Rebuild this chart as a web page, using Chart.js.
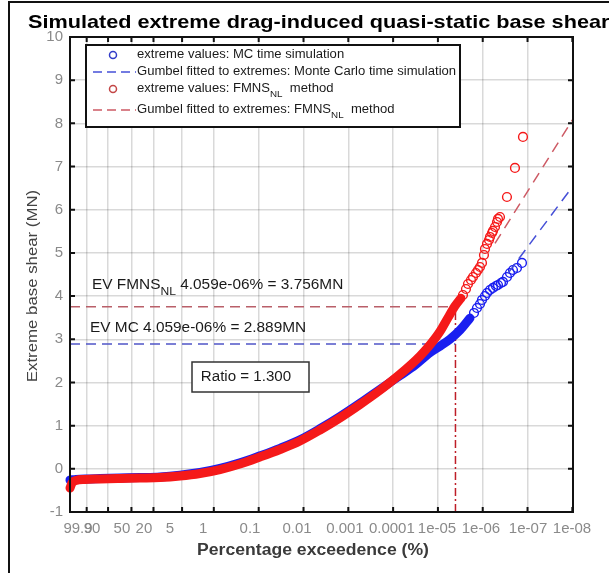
<!DOCTYPE html>
<html>
<head>
<meta charset="utf-8">
<script src="https://cdn.jsdelivr.net/npm/chart.js@4/dist/chart.umd.min.js"></script>
<style>
  html, body { margin: 0; padding: 0; background: #fff; }
  canvas { display: block; }
</style>
</head>
<body>
<canvas id="chart" width="609" height="573"></canvas>
<script>
// ---- exceedance-probability axis (Gumbel reduced variate u = -ln(-ln(1 - P))) ----
const tickPercent = ['99.9', '90', '50', '20', '5', '1', '0.1', '0.01', '0.001', '0.0001', '1e-05', '1e-06', '1e-07', '1e-08'];
// reduced-variate coordinates where each tick label is centred
const labelVariate = [-2.38, -1.66, -0.12, 1.01, 2.35, 4.05, 6.46, 8.88, 11.34, 13.75, 16.07, 18.33, 20.75, 23.01];
const axisVariate = [-2.79, 23.06];

// ---- MC time simulation: sorted extremes (reduced variate, MN) ----
const mcBandU = [-2.790, -2.482, -2.019, -1.248, -0.221, 0.807, 1.835, 2.863, 3.890, 4.918, 5.946, 6.974, 8.002, 9.029, 10.057, 11.085, 12.113, 13.140, 14.168, 14.939, 15.710, 16.224, 16.737, 17.251, 17.765];
const mcBandV = [-0.259, -0.247, -0.236, -0.226, -0.214, -0.203, -0.188, -0.148, -0.085, 0.010, 0.140, 0.302, 0.475, 0.672, 0.928, 1.210, 1.518, 1.840, 2.160, 2.400, 2.690, 2.840, 3.000, 3.210, 3.490];
const mcTailU = [17.971, 18.125, 18.279, 18.382, 18.536, 18.639, 18.793, 18.947, 19.101, 19.204, 19.358, 19.461, 19.666, 19.820, 19.975, 20.180, 20.437];
const mcTailV = [3.609, 3.724, 3.817, 3.910, 4.002, 4.072, 4.141, 4.188, 4.234, 4.257, 4.303, 4.327, 4.442, 4.535, 4.604, 4.651, 4.767];

// ---- FMNS_NL method: sorted extremes (reduced variate, MN) ----
const fmBandU = [-2.790, -2.687, -2.482, -2.019, -1.248, -0.221, 0.807, 1.835, 2.863, 3.890, 4.918, 5.946, 6.974, 8.002, 9.029, 10.057, 11.085, 12.113, 13.140, 14.168, 14.682, 15.196, 15.710, 16.224, 16.635, 16.994, 17.302];
const fmBandV = [-0.444, -0.328, -0.270, -0.247, -0.236, -0.224, -0.213, -0.201, -0.166, -0.108, -0.016, 0.112, 0.274, 0.447, 0.644, 0.899, 1.180, 1.490, 1.820, 2.190, 2.390, 2.610, 2.870, 3.180, 3.500, 3.770, 3.950];
const fmTailU = [17.405, 17.559, 17.662, 17.816, 17.919, 18.073, 18.176, 18.279, 18.382, 18.484, 18.536, 18.639, 18.741, 18.793, 18.896, 18.947, 19.050, 19.153, 19.204, 19.307, 19.666, 20.077, 20.489];
const fmTailV = [4.025, 4.164, 4.280, 4.373, 4.442, 4.535, 4.604, 4.674, 4.767, 4.952, 5.091, 5.207, 5.299, 5.369, 5.461, 5.508, 5.600, 5.716, 5.786, 5.832, 6.295, 6.967, 7.685];

// ---- Gumbel fits to the extremes (end points, MN) ----
const mcFitU = [19.72, 23.06];
const mcFitV = [4.53, 6.55];
const fmFitU = [19.05, 23.06];
const fmFitV = [5.22, 8.10];

// ---- design extreme value ----
const evPercent = 4.059e-06;
const evMC = 2.889;
const evFMNS = 3.756;
const ratioText = 'Ratio = 1.300';

const FONT = '"Liberation Sans", Arial, sans-serif';
const gumbel = p => -Math.log(-Math.log1p(-p / 100));
const evU = gumbel(evPercent);

const pts = (us, vs) => us.map((u, i) => ({ x: u, y: vs[i] }));

const BLUE = 'rgb(25,30,240)';
const RED = 'rgb(245,25,25)';
const BLUE_DASH = 'rgb(70,80,215)';
const RED_DASH = 'rgb(205,90,100)';

const band = (data, color, order) => ({
  data, showLine: true, pointRadius: 0, borderColor: color, borderWidth: 9,
  borderCapStyle: 'round', borderJoinStyle: 'round', cubicInterpolationMode: 'monotone', clip: 6, order
});
const markers = (data, color, order) => ({
  data, showLine: false, pointStyle: 'circle', pointRadius: 4.4, pointBorderWidth: 1.4,
  pointBorderColor: color, pointBackgroundColor: 'rgba(0,0,0,0)', order
});
const dashed = (data, color, dash, order, width = 1.5) => ({
  data, showLine: true, pointRadius: 0, borderColor: color, borderWidth: width,
  borderDash: dash, order
});

const datasets = [
  dashed([{ x: axisVariate[0], y: evFMNS }, { x: evU, y: evFMNS }], 'rgb(185,95,105)', [10, 6], 9),
  dashed([{ x: axisVariate[0], y: evMC }, { x: evU, y: evMC }], 'rgb(80,85,200)', [10, 6], 9),
  dashed([{ x: evU, y: -1 }, { x: evU, y: evFMNS }], 'rgb(190,30,40)', [8, 3, 2, 3], 9),
  band(pts(mcBandU, mcBandV), BLUE, 8),
  markers(pts(mcTailU, mcTailV), BLUE, 7),
  dashed(pts(mcFitU, mcFitV), BLUE_DASH, [11, 7], 6),
  band(pts(fmBandU, fmBandV), RED, 5),
  markers(pts(fmTailU, fmTailV), RED, 4),
  dashed(pts(fmFitU, fmFitV), RED_DASH, [11, 7], 3)
];

// horizontally stretched text, optionally with subscript parts
function drawText(ctx, x, y, parts, size, opts = {}) {
  const { sx = 1.1, align = 'left', weight = '' } = opts;
  const fontOf = sub => (weight ? weight + ' ' : '') + (sub ? size - 3 : size) + 'px ' + FONT;
  let total = 0;
  for (const [t, sub] of parts) { ctx.font = fontOf(sub); total += ctx.measureText(t).width; }
  ctx.save();
  ctx.translate(x, y);
  ctx.scale(sx, 1);
  ctx.textAlign = 'left';
  let cx = align === 'center' ? -total / 2 : 0;
  for (const [t, sub] of parts) {
    ctx.font = fontOf(sub);
    ctx.fillText(t, cx, sub ? size * 0.5 : 0);
    cx += ctx.measureText(t).width;
  }
  ctx.restore();
}

const decorations = {
  id: 'decorations',
  afterDatasetsDraw(chart) {
    const { ctx, chartArea: a, scales } = chart;
    ctx.save();
    // axes box
    ctx.strokeStyle = '#111';
    ctx.lineWidth = 2;
    ctx.strokeRect(a.left, a.top, a.right - a.left, a.bottom - a.top);
    // inward ticks on all four sides
    ctx.beginPath();
    tickPercent.forEach(p => {
      const x = scales.x.getPixelForValue(gumbel(+p));
      ctx.moveTo(x, a.bottom); ctx.lineTo(x, a.bottom - 5);
      ctx.moveTo(x, a.top); ctx.lineTo(x, a.top + 5);
    });
    scales.y.ticks.forEach(t => {
      const y = scales.y.getPixelForValue(t.value);
      ctx.moveTo(a.left, y); ctx.lineTo(a.left + 5, y);
      ctx.moveTo(a.right, y); ctx.lineTo(a.right - 5, y);
    });
    ctx.stroke();

    // design value annotations
    ctx.fillStyle = '#1a1a1a';
    ctx.textBaseline = 'middle';
    drawText(ctx, 92, 285, [['EV FMNS'], ['NL', true], [' 4.059e-06% = 3.756MN']], 14, { sx: 1.1 });
    drawText(ctx, 90, 328, [['EV MC 4.059e-06% = 2.889MN']], 14, { sx: 1.1 });

    // ratio box
    ctx.fillStyle = '#fff';
    ctx.fillRect(192, 362, 117, 30);
    ctx.strokeStyle = '#333';
    ctx.lineWidth = 1.5;
    ctx.strokeRect(192, 362, 117, 30);
    ctx.fillStyle = '#1a1a1a';
    drawText(ctx, 246, 377, [[ratioText]], 14, { sx: 1.08, align: 'center' });

    // legend
    ctx.fillStyle = '#fff';
    ctx.fillRect(86, 45, 374, 82);
    ctx.strokeStyle = '#111';
    ctx.lineWidth = 2;
    ctx.strokeRect(86, 45, 374, 82);
    const rows = [
      { y: 55, kind: 'o', color: 'rgb(50,60,200)', parts: [['extreme values: MC time simulation']] },
      { y: 72, kind: '-', color: BLUE_DASH, parts: [['Gumbel fitted to extremes: Monte Carlo time simulation']] },
      { y: 89, kind: 'o', color: 'rgb(195,70,70)', parts: [['extreme values: FMNS'], ['NL', true], ['  method']] },
      { y: 110, kind: '-', color: RED_DASH, parts: [['Gumbel fitted to extremes: FMNS'], ['NL', true], ['  method']] }
    ];
    rows.forEach(r => {
      ctx.strokeStyle = r.color;
      ctx.lineWidth = 1.5;
      ctx.beginPath();
      if (r.kind === 'o') {
        ctx.setLineDash([]);
        ctx.arc(113, r.y, 3.5, 0, Math.PI * 2);
      } else {
        ctx.setLineDash([9, 5]);
        ctx.moveTo(93, r.y); ctx.lineTo(136, r.y);
      }
      ctx.stroke();
      ctx.setLineDash([]);
      ctx.fillStyle = '#1a1a1a';
      drawText(ctx, 137, r.y, r.parts, 12, { sx: 1.09 });
    });
    ctx.restore();
  },
  afterDraw(chart) {
    const { ctx } = chart;
    ctx.save();
    // figure border
    ctx.strokeStyle = '#111';
    ctx.lineWidth = 2;
    ctx.beginPath();
    ctx.moveTo(9, 573); ctx.lineTo(9, 2); ctx.lineTo(609, 2);
    ctx.stroke();
    // title
    ctx.fillStyle = '#000';
    ctx.textBaseline = 'alphabetic';
    drawText(ctx, 28, 28, [['Simulated extreme drag-induced quasi-static base shear']], 19, { sx: 1.14, weight: 'bold' });
    // axis titles
    ctx.textBaseline = 'middle';
    ctx.fillStyle = '#3a3a3a';
    drawText(ctx, 313, 551, [['Percentage exceedence (%)']], 16, { sx: 1.1, weight: 'bold', align: 'center' });
    ctx.save();
    ctx.translate(33, 286);
    ctx.rotate(-Math.PI / 2);
    ctx.fillStyle = '#444';
    drawText(ctx, 0, 0, [['Extreme base shear (MN)']], 15, { sx: 1.12, align: 'center' });
    ctx.restore();
    ctx.restore();
  }
};

new Chart(document.getElementById('chart'), {
  type: 'scatter',
  data: { datasets },
  options: {
    responsive: false,
    devicePixelRatio: 1,
    animation: false,
    layout: { padding: { left: 0, right: 36, top: 37, bottom: 0 } },
    plugins: { legend: { display: false }, tooltip: { enabled: false } },
    scales: {
      x: {
        type: 'linear', min: axisVariate[0], max: axisVariate[1],
        afterBuildTicks: s => { s.ticks = tickPercent.map(p => ({ value: gumbel(+p) })); },
        ticks: { display: false },
        grid: { color: 'rgba(0,0,0,0.15)', lineWidth: 1.5, drawTicks: false },
        border: { display: false },
        afterFit: s => { s.height = 0; }
      },
      xl: {
        type: 'linear', position: 'bottom', min: axisVariate[0], max: axisVariate[1],
        afterBuildTicks: s => { s.ticks = labelVariate.map(v => ({ value: v })); },
        ticks: {
          autoSkip: false, maxRotation: 0, minRotation: 0, padding: 8,
          color: '#8a8a8a', font: { size: 15, family: FONT },
          callback: (v, i) => tickPercent[i]
        },
        grid: { display: false, drawTicks: false },
        border: { display: false },
        afterFit: s => { s.height = 61; }
      },
      y: {
        min: -1, max: 10,
        ticks: { stepSize: 1, padding: 7, color: '#8a8a8a', font: { size: 15, family: FONT } },
        grid: { color: 'rgba(0,0,0,0.15)', lineWidth: 1.5, drawTicks: false },
        border: { display: false },
        afterFit: s => { s.width = 70; }
      }
    }
  },
  plugins: [decorations]
});
</script>
</body>
</html>
